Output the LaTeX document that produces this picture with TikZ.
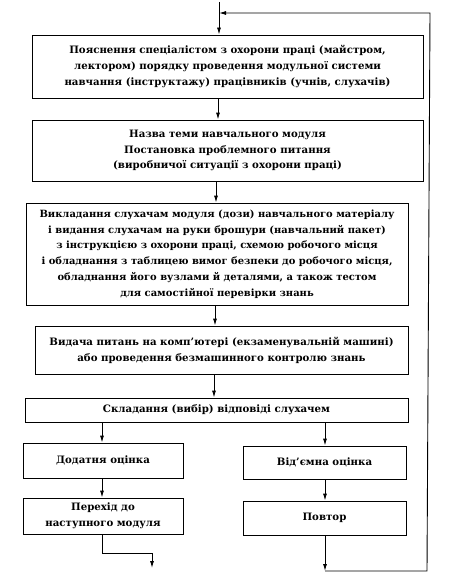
\documentclass[tikz,border=0pt]{standalone}
\usepackage{fontspec}
\setmainfont{DejaVu Serif}
\usetikzlibrary{arrows.meta}
\begin{document}
\begin{tikzpicture}[x=1pt,y=-1pt,
  blk/.style={draw,line width=0.9pt,inner sep=0pt,align=center,
    font=\bfseries\fontsize{10.2}{15.8}\selectfont},
  arr/.style={line width=0.9pt,-{Latex[length=7pt,width=4pt]}}]
\useasboundingbox[fill=white] (0,0) rectangle (453,578);
% boxes
\node[blk,minimum width=391pt,minimum height=63pt] (b1) at (227.5,66.5)
 {Пояснення спеціалістом з охорони праці (майстром,\\
  лектором) порядку проведення модульної системи\\
  навчання (інструктажу) працівників (учнів, слухачів)};
\node[blk,minimum width=391pt,minimum height=61pt] (b2) at (227.5,150.5)
 {Назва теми навчального модуля\\
  Постановка проблемного питання\\
  (виробничої ситуації з охорони праці)};
\node[blk,minimum width=382pt,minimum height=102pt,
  font=\bfseries\fontsize{9.95}{15.8}\selectfont] (b3) at (217,254)
 {Викладання слухачам модуля (дози) навчального матеріалу\\
  і видання слухачам на руки брошури (навчальний пакет)\\
  з інструкцією з охорони праці, схемою робочого місця\\
  і обладнання з таблицею вимог безпеки до робочого місця,\\
  обладнання його вузлами й деталями, а також тестом\\
  для самостійної перевірки знань};
\node[blk,minimum width=373pt,minimum height=48pt] (b4) at (221.5,350)
 {Видача питань на комп’ютері (екзаменувальній машині)\\
  або проведення безмашинного контролю знань};
\node[blk,minimum width=383pt,minimum height=24pt] (b5) at (216.5,410)
 {Складання (вибір) відповіді слухачем};
\node[blk,minimum width=160pt,minimum height=35pt] (b6) at (103,460.5)
 {Додатня оцінка};
\node[blk,minimum width=160pt,minimum height=36pt] (b7) at (103,516)
 {Перехід до\\ наступного модуля};
\node[blk,minimum width=163pt,minimum height=33pt] (b8) at (324.5,462.5)
 {Від’ємна оцінка};
\node[blk,minimum width=163pt,minimum height=34pt] (b9) at (324.5,518)
 {Повтор};
% helper coordinates
\coordinate (top) at (219,2);
\coordinate (join) at (219,13);
\coordinate (m1) at (218,0);
\coordinate (m2) at (216,0);
\coordinate (m3) at (215,0);
\coordinate (m4) at (214,0);
\coordinate (lx) at (102,0);
\coordinate (rx) at (325,0);
\coordinate (lbend) at (102,553);
\coordinate (lend) at (152,568);
\coordinate (rbot) at (325,571);
\coordinate (rcorner) at (427,571);
\coordinate (rtop) at (430,13);
% main flow
\draw[arr] (top) -- (b1.north -| top);
\draw[arr] (b1.south -| m1) -- (b2.north -| m1);
\draw[arr] (b2.south -| m2) -- (b3.north -| m2);
\draw[arr] (b3.south -| m3) -- (b4.north -| m3);
\draw[arr] (b4.south -| m4) -- (b5.north -| m4);
% left branch
\draw[arr] (b5.south -| lx) -- (b6.north -| lx);
\draw[arr] (b6.south -| lx) -- (b7.north -| lx);
\draw[arr] (b7.south -| lx) -- (lbend) -| (lend);
% right branch
\draw[arr] (b5.south -| rx) -- (b8.north -| rx);
\draw[arr] (b8.south -| rx) -- (b9.north -| rx);
\draw[arr] (b9.south -| rx) -- (rbot);
\draw[arr] (rbot) -- (rcorner) -- (rtop) -- (join);
\end{tikzpicture}
\end{document}
